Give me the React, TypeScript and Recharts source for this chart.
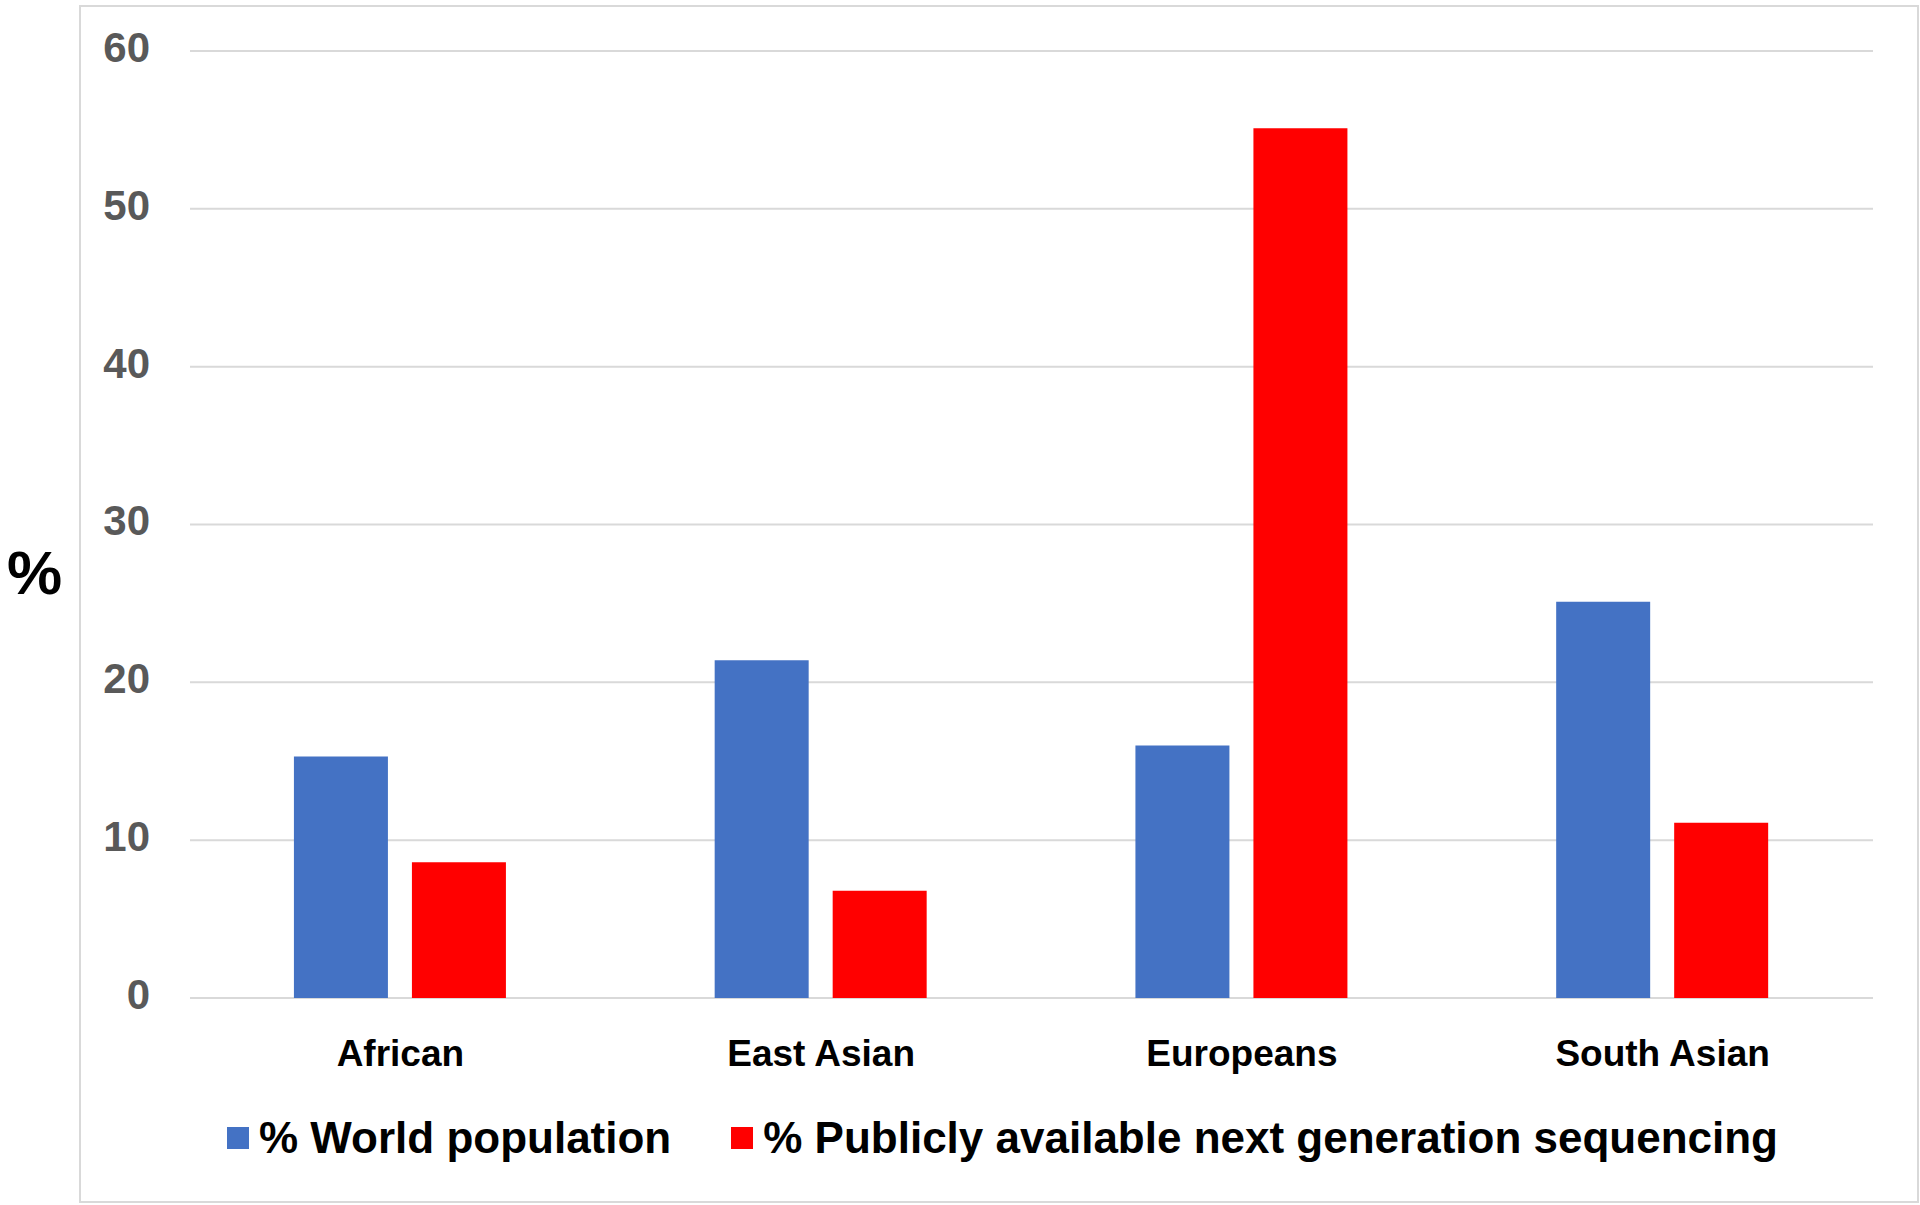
import { Bar, BarChart, CartesianGrid, Label, Legend, XAxis, YAxis } from 'recharts';

const categories = ['African', 'East Asian', 'Europeans', 'South Asian'];
const worldPopulation = [15.3, 21.4, 16.0, 25.1];
const publicNgs = [8.6, 6.8, 55.1, 11.1];
const yTicks = [0, 10, 20, 30, 40, 50, 60];
const seriesOrder = ['world', 'ngs'];

const data = categories.map((name, i) => ({
  name,
  world: worldPopulation[i],
  ngs: publicNgs[i],
}));

const FONT = '"Liberation Sans", Arial, sans-serif';

function LegendContent({ payload }: any) {
  // keep the series order, not the alphabetical one
  const items = [...(payload || [])].sort(
    (a: any, b: any) => seriesOrder.indexOf(a.dataKey) - seriesOrder.indexOf(b.dataKey)
  );
  return (
    <div style={{ display: 'flex', alignItems: 'center', paddingLeft: 227, fontFamily: FONT }}>
      {items.map((p: any, i: number) => (
        <div key={p.value} style={{ display: 'flex', alignItems: 'center', marginRight: i === 0 ? 60 : 0 }}>
          <span style={{ width: 22, height: 22, background: p.color, display: 'inline-block', marginRight: 10 }} />
          <span style={{ fontSize: 44, fontWeight: 700, color: '#000', lineHeight: '50px' }}>{p.value}</span>
        </div>
      ))}
    </div>
  );
}

export default function App() {
  return (
    <div style={{ position: 'absolute', left: 0, top: 0, width: 1920, height: 1205, background: '#fff' }}>
      <div
        style={{
          position: 'absolute',
          left: 79,
          top: 5,
          width: 1836,
          height: 1194,
          border: '2px solid #d9d9d9',
        }}
      />
      <div style={{ position: 'absolute', left: 0, top: 0 }}>
        <BarChart
          width={1920}
          height={1205}
          data={data}
          margin={{ top: 51, right: 47, left: 0, bottom: 0 }}
          barCategoryGap="24.7%"
          barGap={24}
        >
          <CartesianGrid vertical={false} stroke="#d9d9d9" strokeWidth={2} />
          <XAxis
            dataKey="name"
            height={100}
            axisLine={false}
            tickLine={false}
            tickSize={0}
            tickMargin={42}
            tick={{ fontSize: 37, fontWeight: 700, fill: '#000', fontFamily: FONT }}
          />
          <YAxis
            width={190}
            domain={[0, 60]}
            ticks={yTicks}
            axisLine={false}
            tickLine={false}
            tickSize={0}
            tickMargin={40}
            tick={{ fontSize: 42, fontWeight: 700, fill: '#595959', fontFamily: FONT, dy: -4 }}
          >
            <Label
              value="%"
              position="insideLeft"
              offset={7}
              dy={47}
              style={{ fontSize: 62, fontWeight: 700, fill: '#000', fontFamily: FONT }}
            />
          </YAxis>
          <Legend
            verticalAlign="bottom"
            height={107}
            content={<LegendContent />}
            wrapperStyle={{ top: 1113, bottom: 'auto', left: 0, width: 1920 }}
          />
          <Bar dataKey="world" name="% World population" fill="#4472C4" isAnimationActive={false} />
          <Bar
            dataKey="ngs"
            name="% Publicly available next generation sequencing"
            fill="#FF0000"
            isAnimationActive={false}
          />
        </BarChart>
      </div>
    </div>
  );
}
